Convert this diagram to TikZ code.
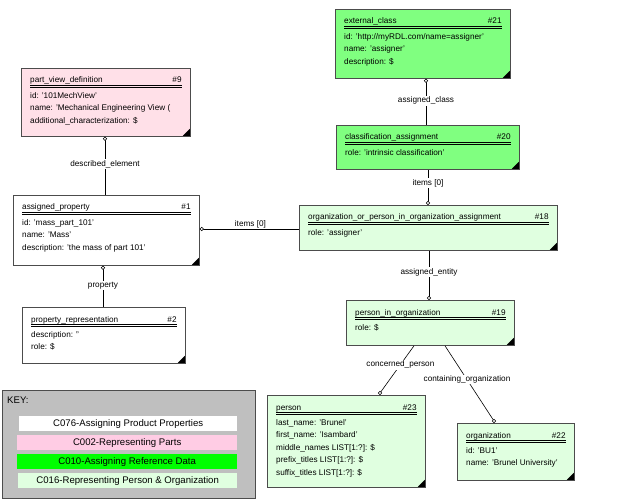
\documentclass[tikz,border=0pt]{standalone}
\usepackage{fontspec}
\setmainfont{Liberation Sans}
\begin{document}
\newcommand{\ent}[9]{%
  \pgfmathsetmacro{\ew}{#4-#2}\pgfmathsetmacro{\eh}{#5-#3}%
  \node[box,fill=#6,minimum width=\ew pt,minimum height=\eh pt,anchor=north west] (#1) at (#2pt,-#3pt) {};
  \fill ([xshift=-1pt,yshift=1pt]#1.south east) -- ++(-7pt,0) -- ++(7pt,7pt) -- cycle;
  \node[txt,anchor=base west] (#1t) at ([xshift=9pt,yshift=-15pt]#1.north west) {#7};
  \node[txt,anchor=base east] (#1n) at ([xshift=-9pt,yshift=-15pt]#1.north east) {#8};
  \draw[line width=0.4pt] ([xshift=9pt,yshift=-17.5pt]#1.north west) -- ([xshift=-9pt,yshift=-17.5pt]#1.north east);
  \draw[line width=0.4pt] ([xshift=9pt,yshift=-18.8pt]#1.north west) -- ([xshift=-9pt,yshift=-18.8pt]#1.north east);
  \begin{scope}
  \clip ([xshift=1pt,yshift=1pt]#1.south west) rectangle ([xshift=-1pt,yshift=-1pt]#1.north east);
  \node[txt,anchor=north west,align=left] (#1b) at ([xshift=9pt,yshift=-24pt]#1.north west) {#9};
  \end{scope}}
\begin{tikzpicture}[x=1pt,y=1pt,
  box/.style={draw=black!70,line width=0.8pt,inner sep=0pt,rectangle},
  txt/.style={font=\fontsize{8.2}{12.6}\selectfont,inner sep=0pt},
  lab/.style={font=\fontsize{8.2}{9}\selectfont,fill=white,inner sep=1pt},
  conn/.style={line width=0.6pt},
  circ/.style={circle,draw,fill=white,inner sep=0pt,minimum size=3.5pt,line width=0.5pt},
  keybar/.style={inner sep=0pt,minimum height=15pt,anchor=north west,font=\fontsize{9.6}{10}\selectfont}]
\useasboundingbox (0,0) rectangle (630,-500);
\definecolor{pk}{RGB}{255,224,232}
\definecolor{gr}{RGB}{128,255,128}
\definecolor{lg}{RGB}{224,255,224}
\definecolor{kp}{RGB}{255,204,228}
\ent{n9}{21}{68}{190}{136}{pk}{part\_view\_definition}{\#9}{id: '101MechView'\\name: 'Mechanical Engineering View (\\additional\_characterization: \$}
\ent{n1}{13}{195}{199}{265}{white}{assigned\_property}{\#1}{id: 'mass\_part\_101'\\name: 'Mass'\\description: 'the mass of part 101'}
\ent{n2}{22}{307}{185}{363}{white}{property\_representation}{\#2}{description: ''\\role: \$}
\ent{n21}{335}{9}{510}{78}{gr}{external\_class}{\#21}{id: 'http://myRDL.com/name=assigner'\\name: 'assigner'\\description: \$}
\ent{n20}{336}{125}{519}{169}{gr}{classification\_assignment}{\#20}{role: 'intrinsic classification'}
\ent{n18}{299}{205}{557}{250}{lg}{organization\_or\_person\_in\_organization\_assignment}{\#18}{role: 'assigner'}
\ent{n19}{346}{300}{514}{345}{lg}{person\_in\_organization}{\#19}{role: \$}
\ent{n23}{267}{395}{425}{487}{lg}{person}{\#23}{last\_name: 'Brunel'\\first\_name: 'Isambard'\\middle\_names LIST[1:?]: \$\\prefix\_titles LIST[1:?]: \$\\suffix\_titles LIST[1:?]: \$}
\ent{n22}{457}{423}{574}{480}{lg}{organization}{\#22}{id: 'BU1'\\name: 'Brunel University'}
% connectors
\coordinate (c9) at ([xshift=84pt,yshift=-2pt]n9.south west);
\draw[conn] (c9) -- (c9 |- n1.north) node[lab,pos=0.45]{described\_element};
\node[circ] at (c9) {};
\coordinate (c1) at ([xshift=2pt]n1.east |- 0,-229);
\draw[conn] (c1) -- (c1 -| n18.west) node[lab,pos=0.5,yshift=5pt,fill=none]{items [0]};
\node[circ] at (c1) {};
\coordinate (c1b) at ([xshift=90pt,yshift=-2pt]n1.south west);
\draw[conn] (c1b) -- (c1b |- n2.north) node[lab,pos=0.45]{property};
\node[circ] at (c1b) {};
\coordinate (c21) at ([xshift=91pt,yshift=-2pt]n21.south west);
\draw[conn] (c21) -- (c21 |- n20.north) node[lab,pos=0.45]{assigned\_class};
\node[circ] at (c21) {};
\coordinate (c18) at ([xshift=129pt,yshift=2pt]n18.north west);
\draw[conn] (c18) -- (c18 |- n20.south) node[lab,pos=0.6]{items [0]};
\node[circ] at (c18) {};
\coordinate (c19) at ([xshift=83pt,yshift=2pt]n19.north west);
\draw[conn] (c19) -- (c19 |- n18.south) node[lab,pos=0.55]{assigned\_entity};
\node[circ] at (c19) {};
\coordinate (c23) at ([xshift=113pt,yshift=2pt]n23.north west);
\draw[conn] ([xshift=68pt]n19.south west) -- (c23) node[lab,pos=0.4]{concerned\_person};
\node[circ] at (c23) {};
\coordinate (c22) at ([xshift=37pt,yshift=2pt]n22.north west);
\draw[conn] ([xshift=99pt]n19.south west) -- (c22) node[lab,pos=0.45]{containing\_organization};
\node[circ] at (c22) {};
% key
\node[box,fill=black!25,minimum width=253pt,minimum height=108pt,anchor=north west] (key) at (2,-390) {};
\node[txt,anchor=north west,font=\fontsize{9.6}{10}\selectfont] (keyt) at (7,-397) {KEY:};
\node[keybar,fill=white,minimum width=218pt] (k1) at (19,-416) {C076-Assigning Product Properties};
\node[keybar,fill=kp,minimum width=220pt] (k2) at (17,-435) {C002-Representing Parts};
\node[keybar,fill=green,minimum width=220pt] (k3) at (17,-454) {C010-Assigning Reference Data};
\node[keybar,fill=lg,minimum width=219pt] (k4) at (18,-473) {C016-Representing Person \& Organization};
\end{tikzpicture}
\end{document}
